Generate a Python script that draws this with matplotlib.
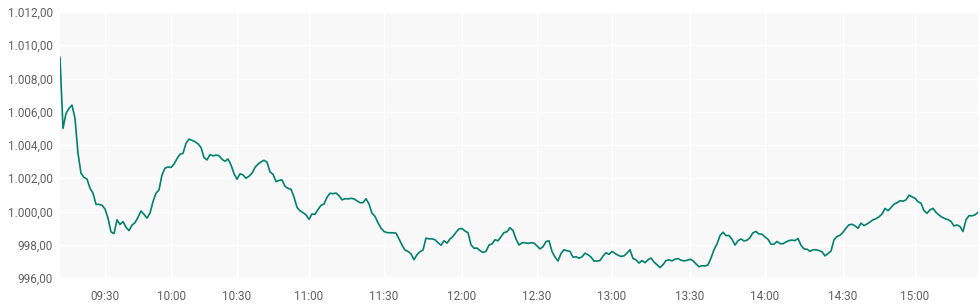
# intraday price line, index based x axis (one point per sample)
import matplotlib
matplotlib.use("Agg")
import matplotlib.pyplot as plt
from matplotlib.ticker import FuncFormatter

# price samples, evenly spaced
price = [
    1009.27, 1005.0, 1005.9, 1006.2, 1006.4, 1005.6, 1003.5, 1002.3, 1002.05, 1001.95,
    1001.4, 1001.1, 1000.43, 1000.43, 1000.38, 1000.15, 999.6, 998.77, 998.67, 999.5,
    999.22, 999.39, 999.05, 998.85, 999.18, 999.33, 999.65, 1000.03, 999.83, 999.6,
    999.9, 1000.59, 1001.1, 1001.3, 1002.2, 1002.61, 1002.68, 1002.65, 1002.85, 1003.18,
    1003.44, 1003.5, 1004.1, 1004.35, 1004.28, 1004.2, 1004.07, 1003.85, 1003.25, 1003.1,
    1003.42, 1003.35, 1003.39, 1003.36, 1003.14, 1003.02, 1003.16, 1002.8, 1002.28, 1001.94,
    1002.27, 1002.2, 1002.0, 1002.12, 1002.3, 1002.65, 1002.85, 1002.98, 1003.08, 1002.97,
    1002.38, 1002.24, 1001.8, 1001.87, 1001.9, 1001.52, 1001.39, 1001.34, 1000.87, 1000.25,
    1000.04, 999.93, 999.8, 999.53, 999.85, 999.83, 1000.12, 1000.37, 1000.45, 1000.85,
    1001.1, 1001.07, 1001.11, 1000.95, 1000.7, 1000.77, 1000.76, 1000.79, 1000.76, 1000.64,
    1000.53, 1000.53, 1000.77, 1000.45, 999.89, 999.71, 999.32, 999.0, 998.8, 998.73,
    998.72, 998.72, 998.7, 998.35, 997.98, 997.68, 997.6, 997.45, 997.1, 997.4,
    997.58, 997.68, 998.4, 998.35, 998.36, 998.3, 998.12, 997.97, 998.24, 998.1,
    998.35, 998.5, 998.75, 998.95, 998.98, 998.82, 998.73, 998.0, 997.79, 997.8,
    997.65, 997.54, 997.6, 997.98, 998.05, 998.3, 998.24, 998.48, 998.73, 998.78,
    999.03, 998.85, 998.35, 997.98, 998.12, 998.12, 998.08, 998.12, 998.1, 997.93,
    997.75, 997.88, 998.19, 998.24, 997.6, 997.26, 997.02, 997.47, 997.7, 997.64,
    997.6, 997.25, 997.28, 997.19, 997.27, 997.49, 997.4, 997.26, 997.02, 997.02,
    997.05, 997.32, 997.52, 997.42, 997.6, 997.48, 997.37, 997.3, 997.33, 997.5,
    997.7, 997.17, 997.09, 996.9, 997.05, 996.92, 997.1, 997.2, 996.96, 996.8,
    996.63, 996.8, 997.05, 997.09, 997.03, 997.13, 997.17, 997.07, 997.03, 997.06,
    997.13, 997.04, 996.85, 996.68, 996.74, 996.72, 996.79, 997.2, 997.7, 998.05,
    998.55, 998.75, 998.55, 998.56, 998.33, 997.98, 998.24, 998.35, 998.23, 998.27,
    998.43, 998.72, 998.8, 998.65, 998.63, 998.47, 998.33, 998.03, 998.03, 998.2,
    998.07, 998.06, 998.17, 998.25, 998.28, 998.25, 998.38, 997.97, 997.75, 997.73,
    997.6, 997.7, 997.7, 997.65, 997.58, 997.33, 997.47, 997.62, 998.3, 998.5,
    998.57, 998.75, 999.0, 999.2, 999.23, 999.14, 998.99, 999.3, 999.15, 999.25,
    999.37, 999.5, 999.57, 999.68, 999.85, 1000.18, 1000.05, 1000.23, 1000.44, 1000.52,
    1000.65, 1000.62, 1000.7, 1000.98, 1000.88, 1000.8, 1000.59, 1000.5, 1000.05, 999.89,
    1000.1, 1000.19, 999.95, 999.79, 999.66, 999.57, 999.51, 999.4, 999.13, 999.19,
    999.1, 998.8, 999.5, 999.75, 999.74, 999.8, 999.95,
]

# sample index where each half hour starts
tick_index = [15, 37, 59, 83, 108, 134, 159, 184, 210, 235, 261, 285]
tick_labels = ["09:30", "10:00", "10:30", "11:00", "11:30", "12:00",
               "12:30", "13:00", "13:30", "14:00", "14:30", "15:00"]
y_ticks = [996, 998, 1000, 1002, 1004, 1006, 1008, 1010, 1012]

plt.rcParams["font.family"] = ["Roboto", "DejaVu Sans"]

fig = plt.figure(figsize=(9.8, 3.07), dpi=100)
ax = fig.add_axes([60 / 980, 29 / 307, 918 / 980, 266 / 307])
ax.set_facecolor("#f8f8f8")

ax.plot(range(len(price)), price, color="#00816f", linewidth=1.2, solid_joinstyle="round")

ax.set_xlim(0, len(price) - 1)
ax.set_ylim(996, 1012)
ax.set_xticks(tick_index)
ax.set_xticklabels(tick_labels)
ax.set_yticks(y_ticks)


def de_fmt(v, pos):
    # german number format: 1.012,00
    s = f"{v:,.2f}"
    return s.replace(",", "X").replace(".", ",").replace("X", ".")


ax.yaxis.set_major_formatter(FuncFormatter(de_fmt))
ax.grid(True, color="white", linewidth=1.0)
ax.set_axisbelow(True)
for sp in ax.spines.values():
    sp.set_visible(False)
ax.tick_params(length=0, labelsize=8.5, labelcolor="#606060")
ax.tick_params(axis="x", pad=9)
ax.tick_params(axis="y", pad=5)

fig.savefig("out.png", dpi=100)
